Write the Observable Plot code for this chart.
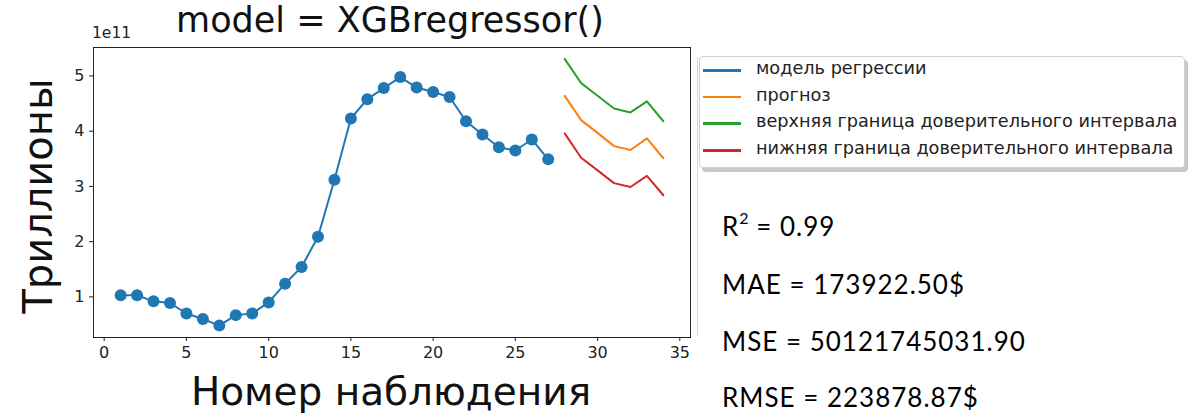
<!DOCTYPE html>
<html><head><meta charset="utf-8">
<script src="https://cdn.jsdelivr.net/npm/d3@7"></script>
<script src="https://cdn.jsdelivr.net/npm/@observablehq/plot@0.6"></script>
<style>
body{margin:0;background:#fff;}
#wrap{position:relative;width:1196px;height:418px;overflow:hidden;font-family:"DejaVu Sans",sans-serif;}
#wrap svg{position:absolute;left:0;top:0;}
.t{position:absolute;white-space:nowrap;color:#111;}
.stat{position:absolute;white-space:nowrap;font-family:Lato,"Open Sans",sans-serif;font-size:26px;letter-spacing:1px;color:#000;}
#legend{position:absolute;left:699px;top:56px;width:484px;height:110px;border:1px solid #d0d0d0;border-radius:4px;background:#fff;box-shadow:3px 4px 0 #c8c8c8;}
.li{position:absolute;left:0;height:20px;font-size:17.7px;color:#222;white-space:nowrap;}
.li span.sw{position:absolute;left:3px;top:0;width:38px;height:2.5px;}
.li span.lb{position:absolute;left:56px;top:-11px;white-space:nowrap;}
</style></head>
<body><div id="wrap"></div>
<script>
// observation numbers and values
const fitX = [1,2,3,4,5,6,7,8,9,10,11,12,13,14,15,16,17,18,19,20,21,22,23,24,25,26,27];
const fitY = [1.03,1.03,0.92,0.89,0.70,0.60,0.48,0.67,0.70,0.90,1.24,1.54,2.09,3.12,4.23,4.58,4.78,4.98,4.79,4.71,4.62,4.18,3.94,3.71,3.65,3.85,3.49].map(v=>v*1e11);
const fcX = [28,29,30,31,32,33,34];
const fcY = [4.64,4.20,3.97,3.73,3.66,3.87,3.51].map(v=>v*1e11);
const upY = [5.31,4.87,4.64,4.41,4.34,4.54,4.18].map(v=>v*1e11);
const loY = [3.96,3.52,3.29,3.06,2.99,3.19,2.84].map(v=>v*1e11);
const xTicks = [0,5,10,15,20,25,30,35];
const yTicks = [1,2,3,4,5].map(v=>v*1e11);
const seriesNames = ["модель регрессии","прогноз","верхняя граница доверительного интервала","нижняя граница доверительного интервала"];
const seriesColors = ["#1f77b4","#ff7f0e","#2ca02c","#d62728"];
const stats = ["R<sup style='font-size:16px;vertical-align:12px;line-height:0;letter-spacing:0'>2</sup> = 0.99","MAE = 173922.50$","MSE = 50121745031.90","RMSE = 223878.87$"];

const fit = fitX.map((x,i)=>({x, y: fitY[i]}));
const fc = fcX.map((x,i)=>({x, f: fcY[i], u: upY[i], l: loY[i]}));

const chart = Plot.plot({
  width: 1196, height: 418,
  marginLeft: 93, marginRight: 506, marginTop: 47, marginBottom: 81,
  style: {fontFamily: "DejaVu Sans", fontSize: "16px", color: "#222", background: "transparent"},
  x: {domain: [-0.65, 35.65], ticks: xTicks, tickSize: 4, label: null, tickPadding: 5},
  y: {domain: [0.265e11, 5.515e11], ticks: yTicks, tickSize: 4, label: null, tickFormat: d => String(d/1e11), tickPadding: 5},
  marks: [
    Plot.frame({stroke: "#222", strokeWidth: 1}),
    Plot.line(fit, {x: "x", y: "y", stroke: seriesColors[0], strokeWidth: 2}),
    Plot.dot(fit, {x: "x", y: "y", fill: seriesColors[0], r: 6}),
    Plot.line(fc, {x: "x", y: "f", stroke: seriesColors[1], strokeWidth: 2}),
    Plot.line(fc, {x: "x", y: "u", stroke: seriesColors[2], strokeWidth: 2}),
    Plot.line(fc, {x: "x", y: "l", stroke: seriesColors[3], strokeWidth: 2})
  ]
});
const wrap = document.getElementById("wrap");
wrap.appendChild(chart);

function addText(html, cls, styleObj){
  const d = document.createElement("div");
  d.className = cls; d.innerHTML = html;
  Object.assign(d.style, styleObj);
  wrap.appendChild(d);
  return d;
}
addText("model = XGBregressor()", "t", {left:"390px", top:"5px", fontSize:"35px", lineHeight:"0.9", transform:"translateX(-50%)"});
addText("1e11", "t", {left:"92px", top:"24px", fontSize:"15.5px", color:"#222"});
addText("Номер наблюдения", "t", {left:"391px", top:"369px", fontSize:"39px", transform:"translateX(-50%)"});
addText("Триллионы", "t", {left:"38px", top:"196px", fontSize:"40px", transform:"translate(-50%,-50%) rotate(-90deg)"});

// faint vertical line
addText("", "t", {left:"697px", top:"57px", width:"1px", height:"279px", background:"#d4d4d4"});

const lg = document.createElement("div"); lg.id = "legend"; wrap.appendChild(lg);
seriesNames.forEach((n,i)=>{
  const r = document.createElement("div"); r.className = "li";
  r.style.top = (12 + i*26.7) + "px";
  r.innerHTML = `<span class="sw" style="background:${seriesColors[i]}"></span><span class="lb">${n}</span>`;
  lg.appendChild(r);
});
const statTops = [210, 268, 325, 381];
stats.forEach((s,i)=> addText(s, "stat", {left:"722px", top: statTops[i]+"px"}));
</script></body></html>
